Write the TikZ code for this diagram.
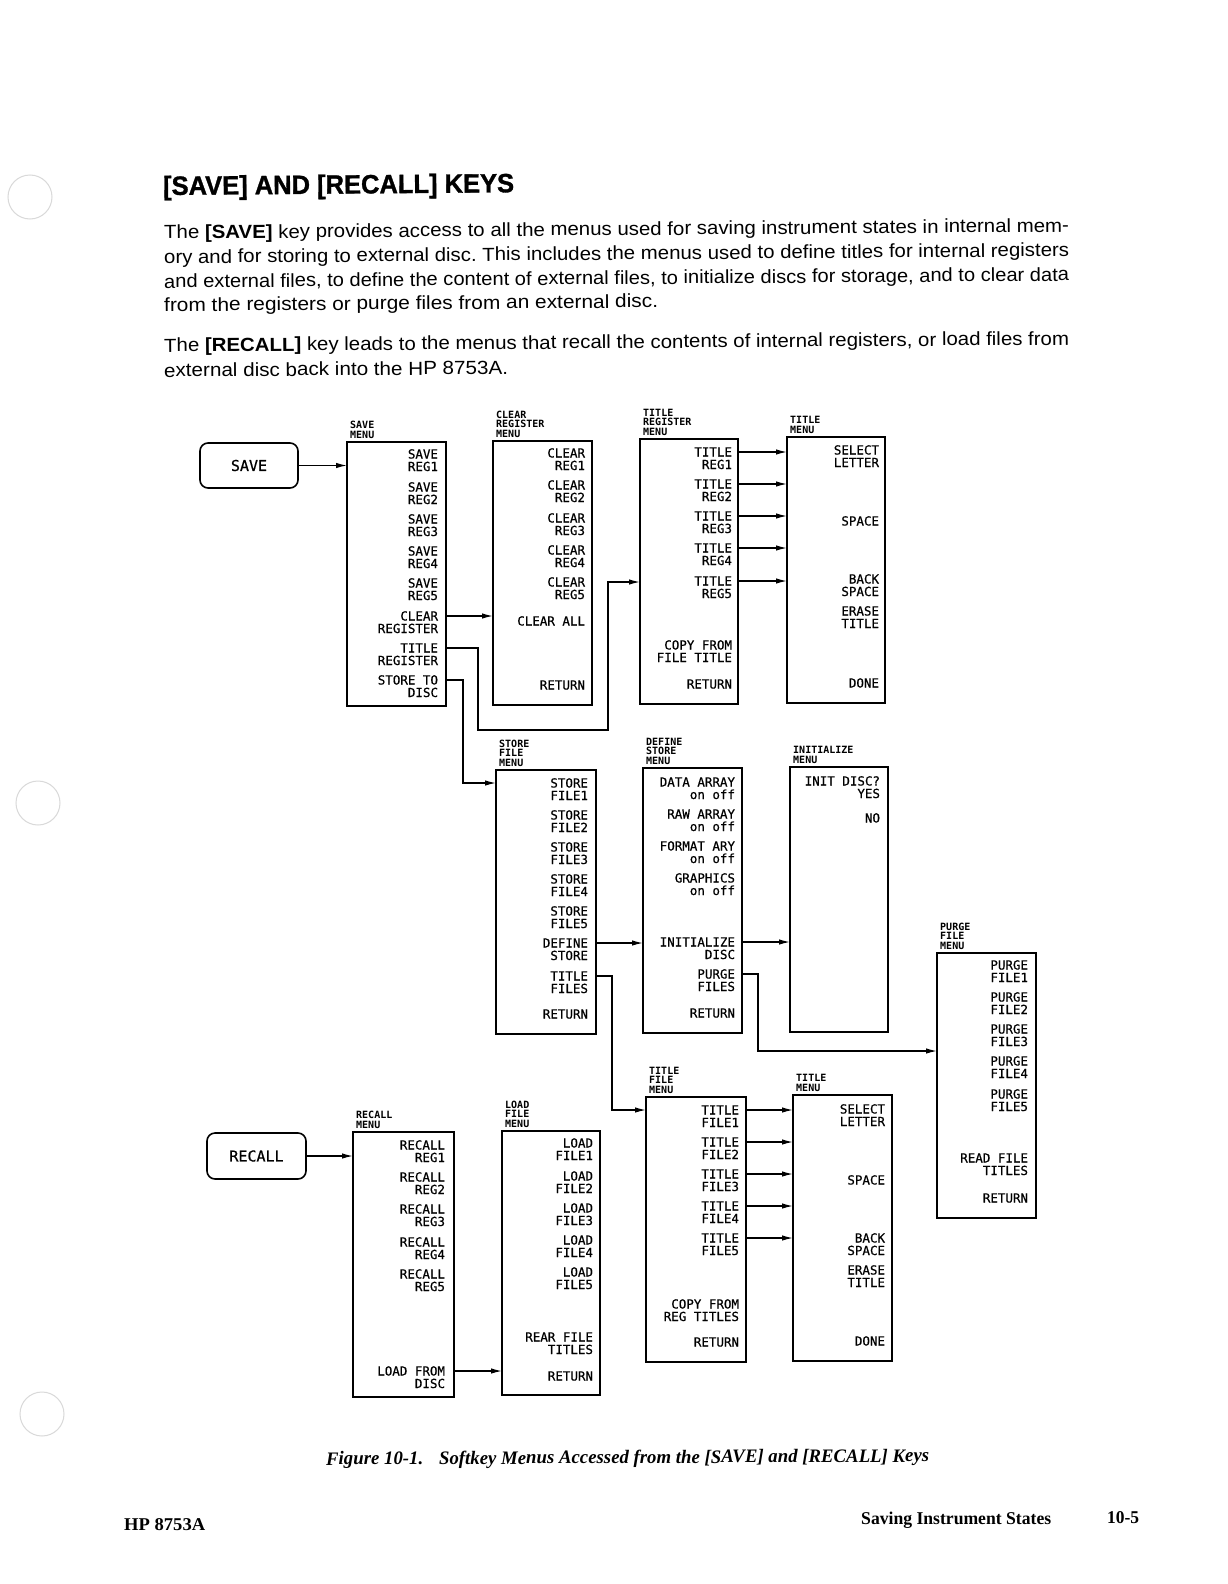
\documentclass[tikz,border=0pt]{standalone}
\usepackage{fontspec}
\usepackage{graphicx}
\usetikzlibrary{arrows.meta}
\newfontfamily\mfont[FakeBold=0.6]{DejaVu Sans Mono}
\newfontfamily\lfont{DejaVu Sans Mono}
\newfontfamily\bfont{Liberation Sans}
\newfontfamily\hfont[FakeBold=1.2]{Liberation Sans Bold}
\newfontfamily\sfont{Liberation Serif}
\frenchspacing

\tikzset{
 menubox/.style={draw, line width=1.5pt, inner sep=0pt, outer sep=0pt},
 keybox/.style={draw, line width=1.6pt, rounded corners=8pt, inner sep=0pt, outer sep=0pt, font=\mfont\fontsize{15}{15}\selectfont},
 itm/.style={inner sep=0pt, outer sep=0pt, text height=9pt, text depth=0pt, font=\mfont\fontsize{12.5}{12.5}\selectfont, anchor=east},
 lbl/.style={inner sep=0pt, align=left, anchor=south west, font=\lfont\bfseries\fontsize{10}{9.7}\selectfont},
 arr/.style={draw, line width=1.3pt, -{Latex[length=11pt,width=5.5pt]}},
 txt/.style={inner sep=0pt, anchor=base west, rotate=0.45},
 hole/.style={draw=gray!30, line width=1pt},
}

\newcommand{\menubx}[6]{%
 \node[menubox, minimum width={#4-#2}, minimum height={#5-#3}] (#1) at ({(#2+#4)/2},{(#3+#5)/2}) {};
 \node[lbl] (#1-lbl) at ({#2+3},{#3-3}) {#6};}
\newcommand{\mi}[5]{%
 \node[itm] (#1) at ({#2},{#3}) {#4};
 \node[itm] (#1b) at ({#2},{#3+12.5}) {#5};}
\newcommand{\ms}[4]{%
 \node[itm] (#1) at ({#2},{#3}) {#4};}
\newcommand{\bodyline}[2]{\resizebox{#1}{\height}{\bfont\fontsize{19}{19}\selectfont #2}}

\begin{document}
\begin{tikzpicture}[x=1pt,y=-1pt]
\fill[white] (0,0) rectangle (1227,1584);
\useasboundingbox (0,0) rectangle (1227,1584);

% binder holes (scan)
\draw[hole] (30,197) circle[radius=22];
\draw[hole] (38,803) circle[radius=22];
\draw[hole] (42,1414) circle[radius=22];

% heading and body text
\node[txt] (head) at (163,195) {\resizebox{351pt}{\height}{\hfont\fontsize{26.5}{26.5}\selectfont [SAVE] AND [RECALL] KEYS}};
\node[txt] (p1) at (164,239) {\bodyline{905pt}{The \textbf{[SAVE]} key provides access to all the menus used for saving instrument states in internal mem-}};
\node[txt] (p2) at (164,263.5) {\bodyline{905pt}{ory and for storing to external disc. This includes the menus used to define titles for internal registers}};
\node[txt] (p3) at (164,288) {\bodyline{905pt}{and external files, to define the content of external files, to initialize discs for storage, and to clear data}};
\node[txt] (p4) at (164,311.5) {\bodyline{494pt}{from the registers or purge files from an external disc.}};
\node[txt] (q1) at (164,352) {\bodyline{905pt}{The \textbf{[RECALL]} key leads to the menus that recall the contents of internal registers, or load files from}};
\node[txt] (q2) at (164,377) {\bodyline{344pt}{external disc back into the HP 8753A.}};

% keys
\node[keybox, minimum width=98, minimum height=45] (savekey) at (249,465.5) {SAVE};
\node[keybox, minimum width=99, minimum height=46] (reckey) at (256.5,1156) {RECALL};

% menu boxes
\menubx{sm}{347}{442}{446}{706}{SAVE\\MENU}
\menubx{crm}{493}{441}{592}{705}{CLEAR\\REGISTER\\MENU}
\menubx{trm}{640}{439}{738}{704}{TITLE\\REGISTER\\MENU}
\menubx{tmA}{787}{437}{885}{703}{TITLE\\MENU}
\menubx{sfm}{496}{770}{596}{1034}{STORE\\FILE\\MENU}
\menubx{dsm}{643}{768}{742}{1033}{DEFINE\\STORE\\MENU}
\menubx{im}{790}{767}{888}{1032}{INITIALIZE\\MENU}
\menubx{pfm}{937}{953}{1036}{1218}{PURGE\\FILE\\MENU}
\menubx{rm}{353}{1132}{454}{1397}{RECALL\\MENU}
\menubx{lfm}{502}{1131}{600}{1395}{LOAD\\FILE\\MENU}
\menubx{tfm}{646}{1097}{746}{1362}{TITLE\\FILE\\MENU}
\menubx{tmB}{793}{1095}{892}{1361}{TITLE\\MENU}

% SAVE menu items
\mi{sm1}{438}{454}{SAVE}{REG1}
\mi{sm2}{438}{487}{SAVE}{REG2}
\mi{sm3}{438}{519}{SAVE}{REG3}
\mi{sm4}{438}{551}{SAVE}{REG4}
\mi{sm5}{438}{583}{SAVE}{REG5}
\mi{sm6}{438}{616}{CLEAR}{REGISTER}
\mi{sm7}{438}{648}{TITLE}{REGISTER}
\mi{sm8}{438}{680}{STORE TO}{DISC}

% CLEAR REGISTER menu
\mi{cr1}{585}{453}{CLEAR}{REG1}
\mi{cr2}{585}{485}{CLEAR}{REG2}
\mi{cr3}{585}{518}{CLEAR}{REG3}
\mi{cr4}{585}{550}{CLEAR}{REG4}
\mi{cr5}{585}{582}{CLEAR}{REG5}
\ms{cr6}{585}{621}{CLEAR ALL}
\ms{cr7}{585}{685}{RETURN}

% TITLE REGISTER menu
\mi{tr1}{732}{452}{TITLE}{REG1}
\mi{tr2}{732}{484}{TITLE}{REG2}
\mi{tr3}{732}{516}{TITLE}{REG3}
\mi{tr4}{732}{548}{TITLE}{REG4}
\mi{tr5}{732}{581}{TITLE}{REG5}
\mi{tr6}{732}{645}{COPY FROM}{FILE TITLE}
\ms{tr7}{732}{684}{RETURN}

% TITLE menu (top)
\mi{ta1}{879}{450}{SELECT}{LETTER}
\ms{ta2}{879}{521}{SPACE}
\mi{ta3}{879}{579}{BACK}{SPACE}
\mi{ta4}{879}{611}{ERASE}{TITLE}
\ms{ta5}{879}{683}{DONE}

% STORE FILE menu
\mi{sf1}{588}{783}{STORE}{FILE1}
\mi{sf2}{588}{815}{STORE}{FILE2}
\mi{sf3}{588}{847}{STORE}{FILE3}
\mi{sf4}{588}{879}{STORE}{FILE4}
\mi{sf5}{588}{911}{STORE}{FILE5}
\mi{sf6}{588}{943}{DEFINE}{STORE}
\mi{sf7}{588}{976}{TITLE}{FILES}
\ms{sf8}{588}{1014}{RETURN}

% DEFINE STORE menu
\mi{ds1}{735}{782}{DATA ARRAY}{on off}
\mi{ds2}{735}{814}{RAW ARRAY}{on off}
\mi{ds3}{735}{846}{FORMAT ARY}{on off}
\mi{ds4}{735}{878}{GRAPHICS}{on off}
\mi{ds5}{735}{942}{INITIALIZE}{DISC}
\mi{ds6}{735}{974}{PURGE}{FILES}
\ms{ds7}{735}{1013}{RETURN}

% INITIALIZE menu
\mi{in1}{880}{781}{INIT DISC?}{YES}
\ms{in2}{880}{818}{NO}

% PURGE FILE menu
\mi{pf1}{1028}{965}{PURGE}{FILE1}
\mi{pf2}{1028}{997}{PURGE}{FILE2}
\mi{pf3}{1028}{1029}{PURGE}{FILE3}
\mi{pf4}{1028}{1061}{PURGE}{FILE4}
\mi{pf5}{1028}{1094}{PURGE}{FILE5}
\mi{pf6}{1028}{1158}{READ FILE}{TITLES}
\ms{pf7}{1028}{1198}{RETURN}

% RECALL menu
\mi{rc1}{445}{1145}{RECALL}{REG1}
\mi{rc2}{445}{1177}{RECALL}{REG2}
\mi{rc3}{445}{1209}{RECALL}{REG3}
\mi{rc4}{445}{1242}{RECALL}{REG4}
\mi{rc5}{445}{1274}{RECALL}{REG5}
\mi{rc6}{445}{1371}{LOAD FROM}{DISC}

% LOAD FILE menu
\mi{lf1}{593}{1143}{LOAD}{FILE1}
\mi{lf2}{593}{1176}{LOAD}{FILE2}
\mi{lf3}{593}{1208}{LOAD}{FILE3}
\mi{lf4}{593}{1240}{LOAD}{FILE4}
\mi{lf5}{593}{1272}{LOAD}{FILE5}
\mi{lf6}{593}{1337}{REAR FILE}{TITLES}
\ms{lf7}{593}{1376}{RETURN}

% TITLE FILE menu
\mi{tf1}{739}{1110}{TITLE}{FILE1}
\mi{tf2}{739}{1142}{TITLE}{FILE2}
\mi{tf3}{739}{1174}{TITLE}{FILE3}
\mi{tf4}{739}{1206}{TITLE}{FILE4}
\mi{tf5}{739}{1238}{TITLE}{FILE5}
\mi{tf6}{739}{1304}{COPY FROM}{REG TITLES}
\ms{tf7}{739}{1342}{RETURN}

% TITLE menu (bottom)
\mi{tb1}{885}{1109}{SELECT}{LETTER}
\ms{tb2}{885}{1180}{SPACE}
\mi{tb3}{885}{1238}{BACK}{SPACE}
\mi{tb4}{885}{1270}{ERASE}{TITLE}
\ms{tb5}{885}{1341}{DONE}

% junction points
\coordinate (j1) at (478,730);
\coordinate (j2) at (608,582);
\coordinate (j3) at (463,783);
\coordinate (j4) at (612,1110);
\coordinate (j5) at (758,1051);

% connectors
\draw[arr] (savekey.east) -- (sm.west |- savekey.east);
\draw[arr] (sm.east |- sm6) -- (crm.west |- sm6);
\draw[arr] (sm.east |- sm7) -| (j1) -| (j2) -- (trm.west |- j2);
\draw[arr] (sm.east |- sm8) -| (j3) -- (sfm.west |- j3);
\foreach \k in {1,...,5} {\draw[arr] (trm.east |- tr\k) -- (tmA.west |- tr\k);}
\draw[arr] (sfm.east |- sf6) -- (dsm.west |- sf6);
\draw[arr] (sfm.east |- sf7) -| (j4) -- (tfm.west |- j4);
\draw[arr] (dsm.east |- ds5) -- (im.west |- ds5);
\draw[arr] (dsm.east |- ds6) -| (j5) -- (pfm.west |- j5);
\foreach \k in {1,...,5} {\draw[arr] (tfm.east |- tf\k) -- (tmB.west |- tf\k);}
\draw[arr] (reckey.east) -- (rm.west |- reckey.east);
\draw[arr] (rm.east |- rc6) -- (lfm.west |- rc6);

% caption and footer
\node[txt, rotate=-0.15] (cap) at (326,1465) {\resizebox{603pt}{\height}{\sfont\bfseries\itshape\fontsize{19}{19}\selectfont Figure 10-1.\hspace{16pt}Softkey Menus Accessed from the [SAVE] and [RECALL] Keys}};
\node[txt, rotate=-0.45] (foot1) at (124,1530) {\resizebox{81pt}{\height}{\sfont\bfseries\fontsize{18}{18}\selectfont HP 8753A}};
\node[txt, rotate=-0.45] (foot2) at (861,1524) {\resizebox{190pt}{\height}{\sfont\bfseries\fontsize{18}{18}\selectfont Saving Instrument States}};
\node[txt, rotate=-0.45] (foot3) at (1107,1523) {\resizebox{32pt}{\height}{\sfont\bfseries\fontsize{18}{18}\selectfont 10-5}};
\end{tikzpicture}
\end{document}
